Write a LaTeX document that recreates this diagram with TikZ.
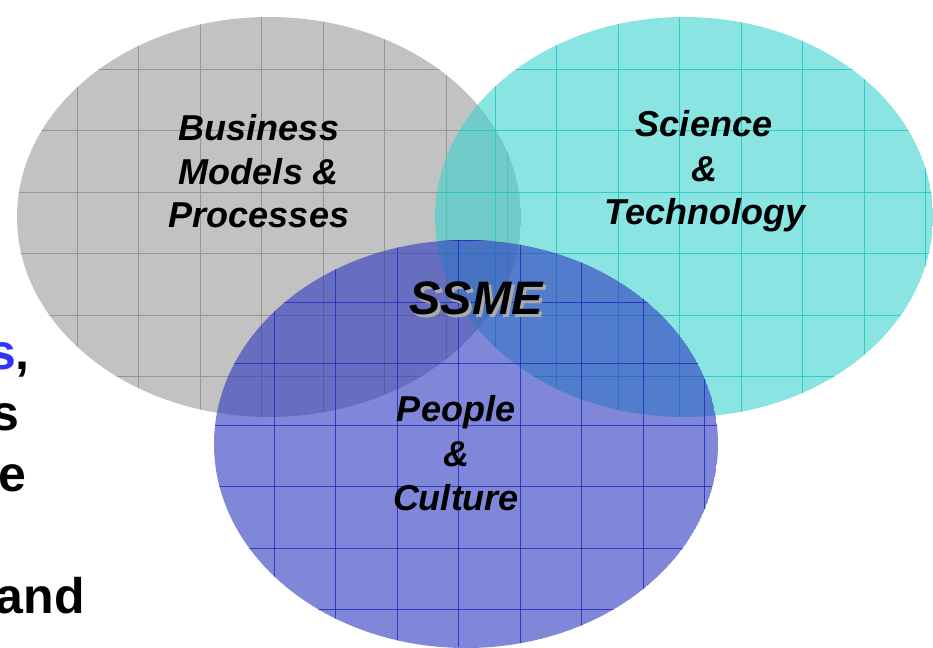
\documentclass[tikz,border=0pt]{standalone}
\usepackage{fontspec}
\setmainfont{Liberation Sans}
\definecolor{grayfill}{RGB}{194,194,194}
\definecolor{grayline}{RGB}{150,150,150}
\definecolor{cyanfill}{RGB}{60,212,206}
\definecolor{cyanline}{RGB}{40,200,195}
\definecolor{bluefill}{RGB}{45,55,190}
\definecolor{blueline}{RGB}{30,40,190}
\definecolor{blueText}{RGB}{51,51,255}
\definecolor{shadowgray}{RGB}{170,170,170}
\tikzset{
  lbl/.style={font=\fontsize{36}{43}\selectfont\bfseries\itshape, anchor=base, inner sep=0pt},
  side/.style={font=\fontsize{50}{60}\selectfont\bfseries, anchor=base east, inner sep=0pt},
  big/.style={font=\fontsize{47}{56}\selectfont\bfseries\itshape, anchor=base, inner sep=0pt},
  gridline/.style={line width=0.9pt}
}
\begin{document}
\begin{tikzpicture}[x=1pt,y=-1pt]
\useasboundingbox (0,0) rectangle (933,647);
% gray ellipse
\begin{scope}
  \clip (269,217) ellipse [x radius=252, y radius=200];
  \fill[grayfill] (269,217) ellipse [x radius=252, y radius=200];
  \foreach \x in {15.5,77,...,530} \draw[gridline,grayline] (\x,0) -- (\x,647);
  \foreach \y in {7.5,69,...,430} \draw[gridline,grayline] (0,\y) -- (933,\y);
\end{scope}
% cyan ellipse
\begin{scope}
  \clip (684,217) ellipse [x radius=249, y radius=200];
  \fill[cyanfill, fill opacity=0.6] (684,217) ellipse [x radius=249, y radius=200];
  \foreach \x in {433.5,495,...,940} \draw[gridline,cyanline,opacity=0.9] (\x,0) -- (\x,647);
  \foreach \y in {7.5,69,...,430} \draw[gridline,cyanline,opacity=0.9] (0,\y) -- (933,\y);
\end{scope}
% blue ellipse
\begin{scope}
  \clip (466,444) ellipse [x radius=252, y radius=204];
  \fill[bluefill, fill opacity=0.6] (466,444) ellipse [x radius=252, y radius=204];
  \foreach \x in {212.5,274,...,720} \draw[gridline,blueline,opacity=0.8] (\x,0) -- (\x,647);
  \foreach \y in {240.5,302,...,660} \draw[gridline,blueline,opacity=0.8] (0,\y) -- (933,\y);
\end{scope}
% labels
\node[lbl] (bus1) at (259,141) {Business};
\node[lbl] (bus2) at (259,184) {Models \&};
\node[lbl] (bus3) at (259,227) {Processes};
\node[lbl] (sci1) at (704,137) {Science};
\node[lbl] (sci2) at (704,181) {\&};
\node[lbl] (sci3) at (705,224) {Technology};
\node[lbl] (peo1) at (456,421) {People};
\node[lbl] (peo2) at (456,466) {\&};
\node[lbl] (peo3) at (456,510) {Culture};
\node[big, text=shadowgray] (ssmeshadow) at (479,317) {SSME};
\node[big] (ssme) at (476,314) {SSME};
% cut-off side text
\node[side] (side1) at (30,369) {{\color{blueText}s},};
\node[side] (side2) at (20,430) {s};
\node[side] (side3) at (27,491) {e};
\node[side] (side4) at (85,613) {and};
\end{tikzpicture}
\end{document}
